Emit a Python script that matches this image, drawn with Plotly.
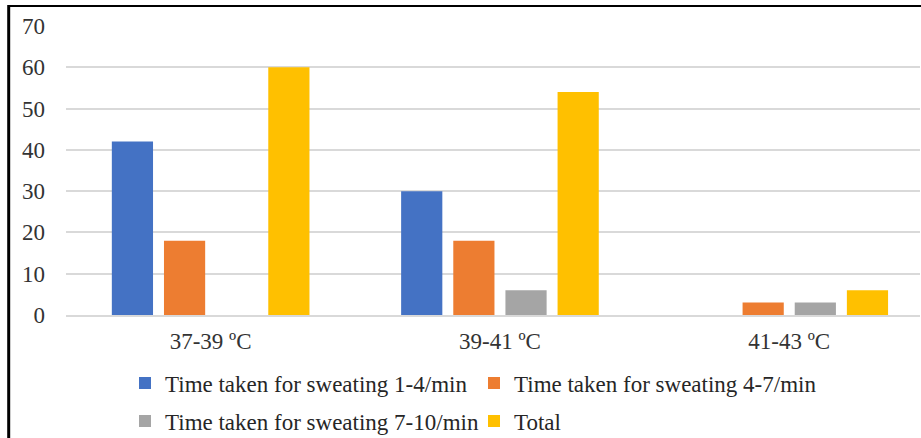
import plotly.graph_objects as go

categories = ["37-39 ºC", "39-41 ºC", "41-43 ºC"]
series_names = [
    "Time taken for sweating 1-4/min",
    "Time taken for sweating 4-7/min",
    "Time taken for sweating 7-10/min",
    "Total",
]
sweat_1_4 = [42, 30, 0]
sweat_4_7 = [18, 18, 3]
sweat_7_10 = [0, 6, 3]
total = [60, 54, 6]
y_ticks = [0, 10, 20, 30, 40, 50, 60, 70]

colors = ["#4472C4", "#ED7D31", "#A5A5A5", "#FFC000"]
values = [sweat_1_4, sweat_4_7, sweat_7_10, total]
legends = ["legend", "legend", "legend2", "legend2"]

W, H = 921, 438
ML, MR, MT, MB = 66, 1, 26, 123
pw = W - ML - MR
ph = H - MT - MB

def px_x(p):
    return (p - ML) / pw

def px_y(p):
    return (H - MB - p) / ph

fig = go.Figure()
for name, vals, col, lg in zip(series_names, values, colors, legends):
    fig.add_trace(go.Bar(
        x=categories, y=vals, name=name, marker_color=col,
        marker_line_width=0, legend=lg,
    ))

font_family = "'Liberation Serif', 'Times New Roman', serif"
legend_common = dict(
    orientation="h", xanchor="left", yanchor="middle",
    font=dict(family=font_family, size=23, color="#262626"),
    entrywidth=304, entrywidthmode="pixels", bgcolor="rgba(0,0,0,0)",
    itemclick=False, itemdoubleclick=False,
)

fig.update_layout(
    width=W, height=H,
    margin=dict(l=ML, r=MR, t=MT, b=MB, pad=0, autoexpand=False),
    paper_bgcolor="white", plot_bgcolor="white",
    barmode="group", bargap=0.279, bargroupgap=0.21,
    showlegend=True,
    legend=dict(x=px_x(125), y=px_y(383), **legend_common),
    legend2=dict(x=px_x(125), y=px_y(421), **legend_common),
    xaxis=dict(
        range=[-0.5, -0.5 + pw / 289.3], showgrid=False,
        showline=True, linecolor="#D9D9D9", linewidth=1.5,
        ticks="", ticklabelstandoff=5,
        tickfont=dict(family=font_family, size=23, color="#333333"),
    ),
    yaxis=dict(
        range=[0, 70], tickvals=y_ticks, showgrid=True,
        gridcolor="#D9D9D9", gridwidth=1.5, zeroline=False,
        showline=False, ticks="", ticklabelstandoff=20,
        tickfont=dict(family=font_family, size=23, color="#333333"),
    ),
    shapes=[
        dict(type="line", xref="paper", yref="paper",
             x0=px_x(8), x1=px_x(921), y0=px_y(6), y1=px_y(6),
             line=dict(color="black", width=2)),
        dict(type="line", xref="paper", yref="paper",
             x0=px_x(8.7), x1=px_x(8.7), y0=px_y(5), y1=px_y(438),
             line=dict(color="black", width=3)),
    ],
)

fig.write_html("out.html")
